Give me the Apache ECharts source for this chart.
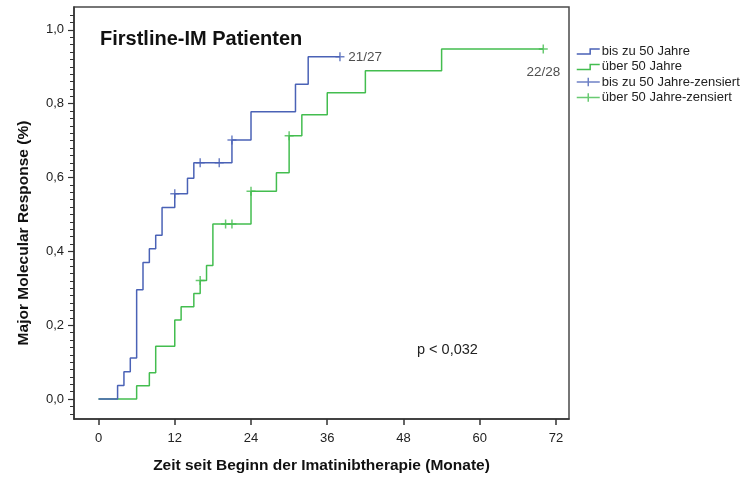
<!DOCTYPE html>
<html>
<head>
<meta charset="utf-8">
<script src="https://cdn.jsdelivr.net/npm/echarts@6/dist/echarts.min.js"></script>
<style>
  html, body { margin: 0; padding: 0; background: #fff; }
  #chart { width: 749px; height: 477px; }
</style>
</head>
<body>
<div id="chart"></div>
<script>
// Kaplan-Meier Schritte (Monate / kumulierter Anteil)
var blueMonths = [0, 3, 4, 5, 6, 7, 8, 9, 10, 12, 14, 15, 21, 24, 31, 33, 38];
var blueValues = [0, 0.037, 0.074, 0.111, 0.296, 0.370, 0.407, 0.444, 0.519, 0.556, 0.598, 0.640, 0.702, 0.778, 0.853, 0.927, 0.927];
var blueCensorMonths = [12, 16, 19, 21, 38];
var blueCensorValues = [0.556, 0.640, 0.640, 0.702, 0.927];

var greenMonths = [0, 6, 8, 9, 12, 13, 15, 16, 17, 18, 24, 28, 30, 32, 36, 42, 54, 70];
var greenValues = [0, 0.036, 0.071, 0.143, 0.214, 0.250, 0.286, 0.321, 0.362, 0.474, 0.563, 0.613, 0.713, 0.770, 0.830, 0.889, 0.948, 0.948];
var greenCensorMonths = [16, 20, 21, 24, 30, 70];
var greenCensorValues = [0.321, 0.474, 0.474, 0.563, 0.713, 0.948];

var seriesNames = ['bis zu 50 Jahre', 'über 50 Jahre', 'bis zu 50 Jahre-zensiert', 'über 50 Jahre-zensiert'];
var endLabels = ['21/27', '22/28'];
var xTicks = [0, 12, 24, 36, 48, 60, 72];
var yTicks = [0, 0.2, 0.4, 0.6, 0.8, 1.0];

var BLUE = '#4a62b6';
var GREEN = '#43bd4f';
var FONT = '"Liberation Sans", Arial, sans-serif';

var yMinor = [];
for (var k = -2; k <= 52; k++) yMinor.push(k * 0.02);

function pairs(xs, ys) {
	var out = [];
	for (var i = 0; i < xs.length; i++) out.push([xs[i], ys[i]]);
	return out;
}

function censorData(xs, ys, label, pos, dist) {
	var d = pairs(xs, ys);
	var last = d.length - 1;
	d[last] = {
		value: d[last],
		label: { show: true, formatter: label, position: pos, distance: dist, color: '#222', fontSize: 13.5, fontFamily: FONT }
	};
	return d;
}

var stepIcon = 'path://M0,0 M0,12 M0,9 L14,9 L14,4 L24,4';
var plusIcon = 'path://M0,0 M0,12 M0,6 L24,6 M12,1.5 L12,10.5';
var censorSymbol = 'path://M0,5 L10,5 M5,0 L5,10';

var myChart = echarts.init(document.getElementById('chart'), null, { renderer: 'canvas' });

var option = {
	backgroundColor: '#fff',
	animation: false,
	textStyle: { fontFamily: FONT },
	title: {
		text: 'Firstline-IM Patienten',
		left: 100, top: 29, padding: 0,
		textStyle: { fontSize: 20, fontWeight: 'bold', color: '#111', fontFamily: FONT }
	},
	legend: {
		orient: 'vertical',
		left: 571, top: 39.5,
		itemWidth: 23, itemHeight: 12, itemGap: 2.5,
		textStyle: { fontSize: 13, color: '#222', fontFamily: FONT, padding: [0, 0, 0, -3] },
		data: [
			{ name: seriesNames[0], icon: stepIcon, itemStyle: { color: 'transparent', borderColor: BLUE, borderWidth: 1.5 } },
			{ name: seriesNames[1], icon: stepIcon, itemStyle: { color: 'transparent', borderColor: GREEN, borderWidth: 1.5 } },
			{ name: seriesNames[2], icon: plusIcon, itemStyle: { color: 'transparent', borderColor: BLUE, borderWidth: 1.5 } },
			{ name: seriesNames[3], icon: plusIcon, itemStyle: { color: 'transparent', borderColor: GREEN, borderWidth: 1.5 } }
		]
	},
	grid: {
		left: 74, right: 180, top: 7, bottom: 58,
		outerBoundsMode: 'none',
		containLabel: false,
		show: true, borderColor: '#4a4a4a', borderWidth: 1.5, backgroundColor: '#fff'
	},
	xAxis: {
		type: 'value',
		min: -3.86, max: 74.05,
		name: 'Zeit seit Beginn der Imatinibtherapie (Monate)',
		nameLocation: 'middle', nameGap: 39,
		nameTextStyle: { fontSize: 15.5, fontWeight: 'bold', color: '#111', fontFamily: FONT },
		axisLine: { show: true, onZero: false, lineStyle: { color: '#333', width: 1.5 } },
		axisTick: { show: true, customValues: xTicks, length: 6, lineStyle: { color: '#333', width: 1.5 } },
		axisLabel: { customValues: xTicks, margin: 13, fontSize: 13, color: '#222', fontFamily: FONT },
		splitLine: { show: false }
	},
	yAxis: [{
		type: 'value',
		min: -0.054, max: 1.062,
		name: 'Major Molecular Response (%)',
		nameLocation: 'middle', nameGap: 42,
		nameTextStyle: { fontSize: 15.5, fontWeight: 'bold', color: '#111', fontFamily: FONT, padding: [0, 40, 0, 0] },
		axisLine: { show: true, onZero: false, lineStyle: { color: '#333', width: 1.5 } },
		axisTick: { show: true, customValues: yTicks, length: 6, lineStyle: { color: '#333', width: 1.2 } },
		axisLabel: {
			customValues: yTicks, margin: 10, fontSize: 13, color: '#222', fontFamily: FONT,
			formatter: function (v) { return v.toFixed(1).replace('.', ','); }
		},
		splitLine: { show: false }
	}, {
		type: 'value',
		position: 'left',
		min: -0.054, max: 1.062,
		axisLine: { show: false, onZero: false },
		axisTick: { show: true, customValues: yMinor, length: 4, lineStyle: { color: '#333', width: 1 } },
		axisLabel: { show: false },
		splitLine: { show: false }
	}],
	series: [{
		name: seriesNames[0],
		type: 'line',
		step: 'end',
		symbol: 'none',
		color: BLUE,
		lineStyle: { color: BLUE, width: 1.5 },
		data: pairs(blueMonths, blueValues),
		z: 3
	}, {
		name: seriesNames[1],
		type: 'line',
		step: 'end',
		symbol: 'none',
		color: GREEN,
		lineStyle: { color: GREEN, width: 1.5 },
		data: pairs(greenMonths, greenValues),
		z: 2
	}, {
		name: seriesNames[2],
		type: 'scatter',
		symbol: censorSymbol,
		symbolSize: [9, 9],
		itemStyle: { color: 'transparent', borderColor: BLUE, borderWidth: 1.5 },
		data: censorData(blueCensorMonths, blueCensorValues, endLabels[0], 'right', 3),
		z: 4
	}, {
		name: seriesNames[3],
		type: 'scatter',
		symbol: censorSymbol,
		symbolSize: [9, 9],
		itemStyle: { color: 'transparent', borderColor: GREEN, borderWidth: 1.5 },
		data: censorData(greenCensorMonths, greenCensorValues, endLabels[1], 'bottom', 11),
		z: 4
	}],
	graphic: [{
		type: 'text',
		left: 417, top: 342,
		style: { text: 'p < 0,032', fontSize: 14.5, fill: '#222', fontFamily: FONT }
	}]
};

myChart.setOption(option);
</script>
</body>
</html>
